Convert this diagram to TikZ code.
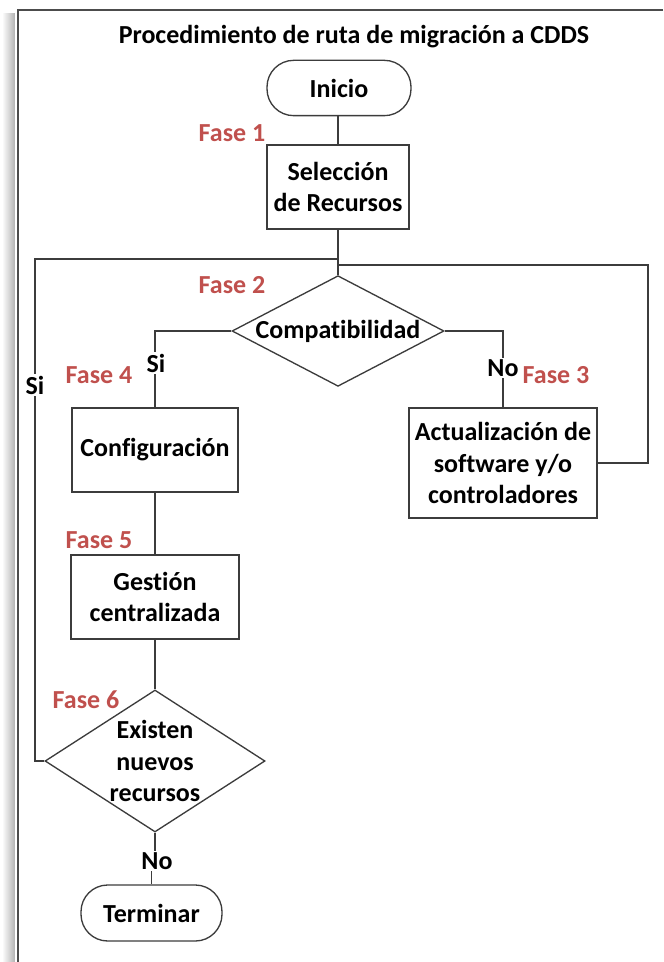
\documentclass[tikz,border=0pt]{standalone}
\usepackage{fontspec}
\setmainfont{Carlito}[RawFeature=-liga]
\usetikzlibrary{shapes.geometric}
\definecolor{faseRed}{RGB}{192,80,77}
\definecolor{lineGray}{RGB}{60,60,60}
\begin{document}
\begin{tikzpicture}[x=0.75pt,y=-0.75pt,
  every node/.style={font=\bfseries\fontsize{19.5}{23.6}\selectfont, text=black},
  line/.style={draw=lineGray, line width=1pt},
  procbox/.style={line, rectangle, fill=white, align=center, inner sep=0pt},
  terminal/.style={line, rectangle, rounded corners=20pt, fill=white, inner sep=0pt,
    minimum width=106pt, minimum height=41.5pt},
  decision/.style={line, diamond, fill=white, inner sep=0pt},
  fase/.style={text=faseRed},
  branch/.style={fill=white, inner sep=1pt}
]
\useasboundingbox (0,0) rectangle (663,962);

% soft shadow on the left of the frame
\shade[left color=white, right color=black!30] (2,14) rectangle (15,962);
\fill[white] (15,10) rectangle (17,962);
% outer frame
\draw[line, draw=black!70, line width=1.2pt] (663,10) -- (18,10) -- (18,963);

\node (title) at (354,37) {Procedimiento de ruta de migración a CDDS};

% main nodes
\node[terminal, minimum width=108pt] (inicio) at (339,88) {Inicio};
\node[procbox, minimum width=106.5pt, minimum height=63pt] (sel) at (338,187)
  {Selección\\de Recursos};
\node[decision, minimum width=159pt, minimum height=83pt] (comp) at (338,331) {};
\node at (comp.center) (compt) {Compatibilidad};
\node[procbox, minimum width=124.5pt, minimum height=63pt] (cfg) at (155,450)
  {Configuración};
\node[procbox, minimum width=141pt, minimum height=82.5pt] (act) at (503,463)
  {Actualización de\\software y/o\\controladores};
\node[procbox, minimum width=126pt, minimum height=63pt] (ges) at (155,597)
  {Gestión\\centralizada};
\node[decision, minimum width=165pt, minimum height=106.5pt] (dia6) at (155,761) {};
\node[align=center] at (dia6.center) (dia6t) {Existen\\nuevos\\recursos};
\node[terminal, minimum width=105.75pt, minimum height=42pt] (term) at (151.5,913) {Terminar};

% phase labels
\node[fase] (f1) at (232,133) {Fase 1};
\node[fase] (f2) at (232,285) {Fase 2};
\node[fase] (f3) at (556,375) {Fase 3};
\node[fase] (f4) at (99,375) {Fase 4};
\node[fase] (f5) at (99,540) {Fase 5};
\node[fase] (f6) at (86,700) {Fase 6};

% loop junctions
\coordinate (jl) at (338,259);
\coordinate (cornerL) at (35,259);
\coordinate (jr) at (338,265);
\coordinate (cornerR) at (648,265);

% connectors
\draw[line] (inicio.south -| sel.north) -- (sel.north);
\draw[line] (sel.south) -- (comp.north);
\draw[line] (comp.west) -| (cfg.north);
\draw[line] (comp.east) -| (act.north);
\draw[line] (cfg.south) -- (ges.north);
\draw[line] (ges.south) -- (dia6.north);
\draw[line] (dia6.west) -| (cornerL) -- (jl);
\draw[line] (act.east) -| (cornerR) -- (jr);

% branch labels
\node[branch] (si1) at (156,363) {Si};
\node[branch] (no1) at (503,368) {No};
\node[branch] (si2) at (35,385) {Si};
\node[branch] (no2) at (157,861) {No};
\draw[line] (dia6.south) -- (no2.north -| dia6.south);
\draw[line] (term.north) -- (term.north |- no2.south);
\end{tikzpicture}
\end{document}
